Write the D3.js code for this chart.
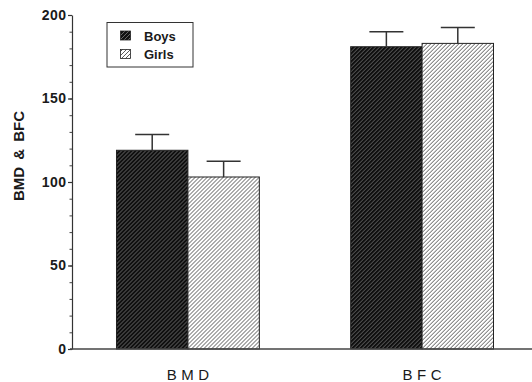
<!DOCTYPE html>
<html>
<head>
<meta charset="utf-8">
<script src="https://cdn.jsdelivr.net/npm/d3@7"></script>
<style>
  html, body { margin: 0; padding: 0; background: #fff; }
  svg { display: block; }
</style>
</head>
<body>
<script>
// Group means and standard errors
const categories = ["BMD", "BFC"];
const series = ["Boys", "Girls"];
const boys = [119, 181];
const girls = [103, 183];
const boysErr = [9.5, 9];
const girlsErr = [9.5, 9.5];
const yTicks = [0, 50, 100, 150, 200];
const yTitle = "BMD & BFC";

const W = 532, H = 382;
const values = [boys, girls];
const errors = [boysErr, girlsErr];

const svg = d3.select("body").append("svg")
  .attr("width", W).attr("height", H);

// Hatch fills: dark for boys, light for girls
const defs = svg.append("defs");
function hatch(id, bg, line, lw) {
  const p = defs.append("pattern").attr("id", id)
    .attr("patternUnits", "userSpaceOnUse")
    .attr("width", 4).attr("height", 4);
  p.append("rect").attr("width", 4).attr("height", 4).attr("fill", bg);
  p.append("path").attr("d", "M-1,1 l2,-2 M0,4 l4,-4 M3,5 l2,-2")
    .attr("stroke", line).attr("stroke-width", lw);
}
hatch("hatch-boys", "#101010", "#6e6e6e", 0.9);
hatch("hatch-girls", "#fdfdfd", "#5a5a5a", 1.0);
const fills = ["url(#hatch-boys)", "url(#hatch-girls)"];

const y = d3.scaleLinear().domain([0, 200]).range([349, 15]);
const x0 = d3.scaleBand().domain(categories).range([72, 538])
  .paddingInner(0.39).paddingOuter(0.19);
const x1 = d3.scaleBand().domain(series).range([0, x0.bandwidth()]);

// Bars
const groups = svg.append("g").selectAll("g")
  .data(categories).join("g")
  .attr("transform", d => `translate(${x0(d)},0)`);

series.forEach((s, si) => {
  groups.append("rect")
    .attr("x", x1(s))
    .attr("y", (d, i) => y(values[si][i]))
    .attr("width", x1.bandwidth())
    .attr("height", (d, i) => y(0) - y(values[si][i]))
    .attr("fill", fills[si])
    .attr("stroke", "#222")
    .attr("stroke-width", 1);
});

// Upper error bars
const capHalf = 17;
series.forEach((s, si) => {
  const cx = x1(s) + x1.bandwidth() / 2;
  groups.append("path")
    .attr("d", (d, i) => {
      const top = y(values[si][i] + errors[si][i]);
      const base = y(values[si][i]);
      return `M${cx},${base}V${top}M${cx - capHalf},${top}H${cx + capHalf}`;
    })
    .attr("fill", "none")
    .attr("stroke", "#333")
    .attr("stroke-width", 1.5);
});

// Y axis with minor ticks
const yMinor = d3.axisLeft(y).tickValues(d3.range(0, 201, 10))
  .tickSize(2.5).tickFormat("");
svg.append("g").attr("transform", "translate(72,0)").call(yMinor)
  .call(g => g.select(".domain").remove())
  .call(g => g.selectAll("line").attr("stroke", "#444"));

const yAxis = d3.axisLeft(y).tickValues(yTicks).tickSize(4).tickPadding(1.5)
  .tickSizeOuter(0);
svg.append("g").attr("transform", "translate(72,0)").call(yAxis)
  .call(g => g.select(".domain").attr("stroke", "#333").attr("stroke-width", 1.2))
  .call(g => g.selectAll("line").attr("stroke", "#333").attr("stroke-width", 1.2))
  .call(g => g.selectAll("text")
    .attr("font-family", "Arial, 'Liberation Sans', sans-serif")
    .attr("font-weight", "bold")
    .attr("font-size", 14)
    .attr("letter-spacing", 0.5)
    .attr("fill", "#1a1a1a"));

// Baseline
svg.append("line")
  .attr("x1", 70).attr("x2", W)
  .attr("y1", y(0)).attr("y2", y(0))
  .attr("stroke", "#444").attr("stroke-width", 1.5);

// Category labels
const ls = 4.5;
svg.append("g").selectAll("text")
  .data(categories).join("text")
  .attr("x", d => x0(d) + x0.bandwidth() / 2 + ls / 2)
  .attr("y", 380)
  .attr("text-anchor", "middle")
  .attr("font-family", "Arial, 'Liberation Sans', sans-serif")
  .attr("font-size", 15)
  .attr("letter-spacing", ls)
  .attr("fill", "#1a1a1a")
  .text(d => d);

// Y title
svg.append("text")
  .attr("transform", "translate(24,156) rotate(-90)")
  .attr("text-anchor", "middle")
  .attr("font-family", "Arial, 'Liberation Sans', sans-serif")
  .attr("font-weight", "bold")
  .attr("font-size", 15)
  .attr("word-spacing", 3)
  .attr("fill", "#1a1a1a")
  .text(yTitle);

// Legend
const legend = svg.append("g");
legend.append("rect")
  .attr("x", 107).attr("y", 22.5).attr("width", 86).attr("height", 44.5)
  .attr("fill", "#fff").attr("stroke", "#333").attr("stroke-width", 1);
series.forEach((s, si) => {
  const ly = 31 + si * 18.5;
  legend.append("rect")
    .attr("x", 120.5).attr("y", ly).attr("width", 10).attr("height", 9)
    .attr("fill", fills[si]).attr("stroke", "#222").attr("stroke-width", 0.8);
  legend.append("text")
    .attr("x", 144).attr("y", ly + 9.5)
    .attr("font-family", "Arial, 'Liberation Sans', sans-serif")
    .attr("font-weight", "bold")
    .attr("font-size", 13)
    .attr("fill", "#1a1a1a")
    .text(s);
});
</script>
</body>
</html>
